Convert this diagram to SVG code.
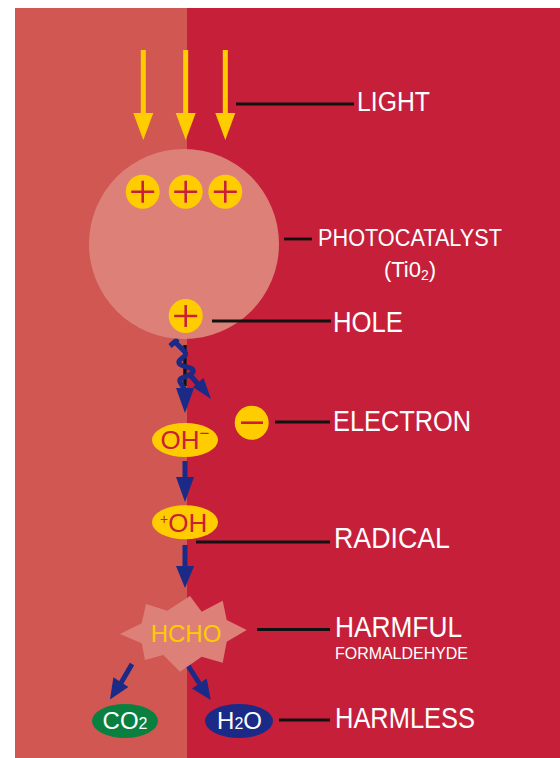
<svg xmlns="http://www.w3.org/2000/svg" width="560" height="758" viewBox="0 0 560 758">
  <defs>
    <style>
      .lbl { font-family: "Liberation Sans", Arial, sans-serif; fill: #ffffff; }
      .big { font-size: 29px; }
      .lead { stroke: #111111; stroke-width: 2.8; fill: none; }
      .yellow { fill: #FFCC00; }
      .plus { stroke: #C8203A; stroke-width: 2.6; fill: none; }
      .blue { fill: #1B2A87; }
      .bstroke { stroke: #1B2A87; stroke-width: 5; fill: none; }
      .ltxt { font-family: "Liberation Sans", Arial, sans-serif; }
    </style>
  </defs>

  <!-- background panels -->
  <rect x="15" y="8" width="545" height="750" fill="#C61F3A"/>
  <rect x="15" y="8" width="172" height="750" fill="#D15753"/>

  <!-- light arrows -->
  <g id="light-arrows" class="yellow">
    <rect x="140.8" y="50" width="5" height="65"/>
    <polygon points="133.3,113 153.3,113 143.3,140"/>
    <rect x="183.2" y="50" width="5" height="65"/>
    <polygon points="175.7,113 195.7,113 185.7,140"/>
    <rect x="222.8" y="50" width="5" height="65"/>
    <polygon points="215.3,113 235.3,113 225.3,140"/>
  </g>

  <!-- connectors -->
  <g id="connectors">
    <!-- wavy photon/electron path -->
    <line x1="185" y1="345" x2="185" y2="386" stroke="#111111" stroke-width="3.5"/>
    <path class="bstroke" stroke-width="5.5" d="M174,341 L184,351 C190,357 177,358 179,363 C181,368 195,366 193,372 C191,377 178,376 180,382 L185,390"/>
    <path class="bstroke" stroke-width="4" d="M170,346 L178,339"/>
    <polygon class="blue" points="176,388 194,388 185,413"/>
    <line class="bstroke" x1="189" y1="374" x2="198" y2="384"/>
    <polygon class="blue" points="192.8,387.1 203.6,378.1 211,399"/>

    <!-- OH- to +OH -->
    <line class="bstroke" x1="185" y1="461" x2="185" y2="479"/>
    <polygon class="blue" points="176,477 194,477 185,502"/>

    <!-- +OH to HCHO -->
    <line class="bstroke" x1="185" y1="545" x2="185" y2="568"/>
    <polygon class="blue" points="176,566 194,566 185,588"/>

    <!-- HCHO to CO2 / H2O -->
    <line class="bstroke" x1="132" y1="664" x2="121" y2="683"/>
    <polygon class="blue" points="128.4,687.1 113.4,677.3 110,699.5"/>
    <line class="bstroke" x1="187" y1="664" x2="199.4" y2="683.5"/>
    <polygon class="blue" points="192,688.6 206.8,678.4 210.7,700"/>
  </g>

  <!-- photocatalyst -->
  <g id="photocatalyst">
    <circle cx="184" cy="244" r="95" fill="#DD8178"/>
    <circle class="yellow" cx="142.7" cy="191.7" r="17"/>
    <path class="plus" d="M131.2,191.7 H154.2 M142.7,180.7 V202.7"/>
    <circle class="yellow" cx="185.7" cy="191.7" r="17"/>
    <path class="plus" d="M174.2,191.7 H197.2 M185.7,180.7 V202.7"/>
    <circle class="yellow" cx="225.3" cy="191.7" r="17"/>
    <path class="plus" d="M213.8,191.7 H236.8 M225.3,180.7 V202.7"/>
  </g>

  <!-- hole -->
  <g id="hole">
    <circle class="yellow" cx="185.7" cy="316" r="17"/>
    <path class="plus" d="M174.2,316 H197.2 M185.7,305 V327"/>
  </g>

  <!-- electron -->
  <g id="electron">
    <circle class="yellow" cx="251.7" cy="422.7" r="17"/>
    <line class="plus" x1="241" y1="422.7" x2="263" y2="422.7" stroke-width="3"/>
  </g>

  <!-- OH- -->
  <g id="oh-minus">
    <ellipse class="yellow" cx="185" cy="440" rx="33" ry="17"/>
    <text class="ltxt" x="160.5" y="449" font-size="26" fill="#C8203A">OH<tspan font-size="17" dy="-10">−</tspan></text>
  </g>

  <!-- radical -->
  <g id="radical">
    <ellipse class="yellow" cx="185" cy="522.3" rx="33" ry="17"/>
    <text class="ltxt" x="160" y="531.5" font-size="26" fill="#C8203A"><tspan font-size="14" dy="-8">+</tspan><tspan dy="8">OH</tspan></text>
  </g>

  <!-- HCHO -->
  <g id="hcho">
    <polygon fill="#DD8178" points="120,634 141.7,623.3 146,604 167.3,610.7 190,596 201.7,611.7 222.7,600.7 226.7,620 246.7,630 226.7,641.7 222.7,662.7 201.7,656.7 180,671.7 163.3,655 145,660 141.7,643.3"/>
    <text class="ltxt" x="186" y="642" font-size="24" fill="#FFCC00" text-anchor="middle">HCHO</text>
  </g>

  <!-- CO2 -->
  <g id="co2">
    <ellipse cx="125" cy="721" rx="33" ry="17" fill="#0A8040"/>
    <text class="ltxt" x="125" y="729" font-size="24" fill="#ffffff" text-anchor="middle">CO<tspan font-size="16">2</tspan></text>
  </g>

  <!-- H2O -->
  <g id="h2o">
    <ellipse cx="239" cy="721" rx="34" ry="17" fill="#1B2A87"/>
    <text class="ltxt" x="239.5" y="729" font-size="24" fill="#ffffff" text-anchor="middle">H<tspan font-size="16">2</tspan>O</text>
  </g>

  <!-- leader lines -->
  <g id="leaders">
    <line class="lead" x1="236" y1="104" x2="354" y2="104"/>
    <line class="lead" x1="284" y1="239" x2="312" y2="239"/>
    <line class="lead" x1="212" y1="321" x2="331" y2="321"/>
    <line class="lead" x1="275" y1="422" x2="330" y2="422"/>
    <line class="lead" x1="196" y1="542" x2="330" y2="542"/>
    <line class="lead" x1="257" y1="629.5" x2="330" y2="629.5"/>
    <line class="lead" x1="279" y1="720" x2="330" y2="720"/>
  </g>

  <!-- labels -->
  <g id="labels">
    <text class="lbl" x="357" y="111" font-size="27" textLength="73" lengthAdjust="spacingAndGlyphs">LIGHT</text>
    <text class="lbl" x="318" y="246" font-size="23" textLength="184" lengthAdjust="spacingAndGlyphs">PHOTOCATALYST</text>
    <text class="lbl" x="410" y="277" font-size="22" text-anchor="middle">(Ti0<tspan font-size="14" dy="3">2</tspan><tspan dy="-3">)</tspan></text>
    <text class="lbl big" x="333" y="331.5" textLength="70" lengthAdjust="spacingAndGlyphs">HOLE</text>
    <text class="lbl big" x="333" y="431" textLength="138" lengthAdjust="spacingAndGlyphs">ELECTRON</text>
    <text class="lbl big" x="334" y="548" textLength="116" lengthAdjust="spacingAndGlyphs">RADICAL</text>
    <text class="lbl big" x="335" y="636.5" textLength="127" lengthAdjust="spacingAndGlyphs">HARMFUL</text>
    <text class="lbl" x="335" y="659" font-size="17" textLength="133" lengthAdjust="spacingAndGlyphs">FORMALDEHYDE</text>
    <text class="lbl big" x="335" y="728" textLength="140" lengthAdjust="spacingAndGlyphs">HARMLESS</text>
  </g>
</svg>
